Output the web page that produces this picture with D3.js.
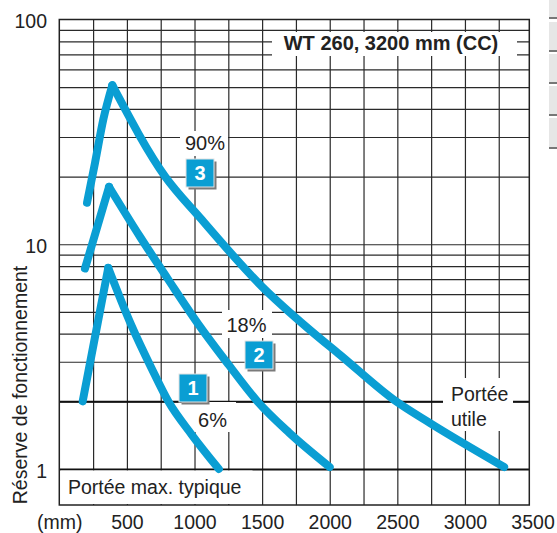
<!DOCTYPE html>
<html>
<head>
<meta charset="utf-8">
<script src="https://cdn.jsdelivr.net/npm/d3@7"></script>
<style>
  html, body { margin: 0; padding: 0; background: #fff; }
  svg { display: block; }
  text { font-family: "Liberation Sans", Arial, sans-serif; fill: #222; }
</style>
</head>
<body>
<script>
// ---------- DATA ----------
const xTickValues = [0, 500, 1000, 1500, 2000, 2500, 3000, 3500];
const xTickLabels = ["(mm)", "500", "1000", "1500", "2000", "2500", "3000", "3500"];
const xGridValues = [250, 500, 750, 1000, 1250, 1500, 1750, 2000, 2250, 2500, 2750, 3000, 3250];
const yTickValues = [1, 10, 100];
const yTickLabels = ["1", "10", "100"];
const yGridValues = [2, 3, 4, 5, 6, 7, 8, 9, 10, 20, 30, 40, 50, 60, 70, 80, 90];
const yStrongValues = [1, 2];

const seriesIds = ["1", "2", "3"];
const seriesPct = ["6%", "18%", "90%"];
const c1Dist = [173, 362, 530, 683, 806, 980, 1180];
const c1Res  = [2.0, 7.85, 4.4, 2.8, 2.0, 1.42, 1.0];
const c2Dist = [190, 368, 597, 800, 1041, 1250, 1465, 1700, 2000];
const c2Res  = [7.8, 18, 10.8, 7.05, 4.3, 2.92, 2.0, 1.45, 1.02];
const c3Dist = [205, 264, 326, 392, 783, 1042, 1497, 1855, 2076, 2495, 2742, 3290];
const c3Res  = [15.3, 23, 36, 51, 20, 13.1, 6.5, 4.15, 3.22, 1.99, 1.6, 1.02];

const titleText = "WT 260, 3200 mm (CC)";
const yTitle = "Réserve de fonctionnement";
const maxLabel = "Portée max. typique";
const usefulLabel = ["Portée", "utile"];

// ---------- LAYOUT ----------
const W = 557, H = 533;
const pL = 59.3, pR = 529.3, pT = 19.5, pB = 505;
const x = d3.scaleLinear().domain([0, 3476]).range([pL, pR]);
const y = d3.scaleLog().domain([1, 100]).range([469, pT]);
const blue = "#0a9ed3";
const gridCol = "#2a2a2a";

const svg = d3.select("body").append("svg").attr("width", W).attr("height", H);

// partial neighbour table on the right edge
const cellTops = [0, 22, 54, 86, 118];
const cellH = [19, 30, 30, 30, 31];
cellTops.forEach((t, i) => {
  svg.append("rect").attr("x", 549).attr("y", t).attr("width", 10).attr("height", cellH[i])
    .attr("fill", "#e6e6e6");
  svg.append("rect").attr("x", 549).attr("y", t + cellH[i] - 2).attr("width", 10).attr("height", 2)
    .attr("fill", "#777");
});

// ---------- GRID ----------
const gV = svg.append("g").attr("transform", `translate(0,${pB})`)
  .call(d3.axisBottom(x).tickValues(xGridValues).tickSize(-(pB - pT)).tickFormat(""));
gV.select(".domain").remove();
gV.selectAll("line").attr("stroke", gridCol).attr("stroke-width", 1.2);

const gH = svg.append("g").attr("transform", `translate(${pL},0)`)
  .call(d3.axisLeft(y).tickValues(yGridValues).tickSize(-(pR - pL)).tickFormat(""));
gH.select(".domain").remove();
gH.selectAll("line").attr("stroke", gridCol).attr("stroke-width", 1.2);

const gS = svg.append("g").attr("transform", `translate(${pL},0)`)
  .call(d3.axisLeft(y).tickValues(yStrongValues).tickSize(-(pR - pL)).tickFormat(""));
gS.select(".domain").remove();
gS.selectAll("line").attr("stroke", "#111").attr("stroke-width", 2);

// frame
svg.append("rect").attr("x", pL).attr("y", pT).attr("width", pR - pL).attr("height", pB - pT)
  .attr("fill", "none").attr("stroke", "#222").attr("stroke-width", 1.5);

// ---------- WHITE LABEL BACKGROUNDS ----------
const bgs = [
  [272, 32, 245, 24],    // title
  [180, 131, 48, 25],    // 90%
  [222, 310, 50, 28],    // 18%
  [182, 402, 54, 30],    // 6%
  [443, 378, 70, 53],    // Portée utile
  [60.5, 470.5, 192, 33.5] // Portée max. typique
];
bgs.forEach(b => svg.append("rect").attr("x", b[0]).attr("y", b[1]).attr("width", b[2]).attr("height", b[3]).attr("fill", "#fff"));

// ---------- CURVES ----------
const line = d3.line().x(d => x(d[0])).y(d => y(d[1])).curve(d3.curveMonotoneX);
[[c1Dist, c1Res], [c2Dist, c2Res], [c3Dist, c3Res]].forEach(([xs, ys]) => {
  const pts = xs.map((v, i) => [v, ys[i]]);
  const pk = d3.maxIndex(ys);
  [pts.slice(0, pk + 1), pts.slice(pk)].forEach(seg => {
    svg.append("path").attr("d", line(seg)).attr("fill", "none")
      .attr("stroke", blue).attr("stroke-width", 8)
      .attr("stroke-linecap", "round").attr("stroke-linejoin", "round");
  });
});

// ---------- TEXT ----------
const fs = 19.5;
svg.append("text").attr("x", 391).attr("y", 50).attr("text-anchor", "middle")
  .attr("font-size", 20).attr("font-weight", "bold").text(titleText);

const gX = svg.append("g").attr("transform", `translate(0,${pB})`)
  .call(d3.axisBottom(x).tickValues(xTickValues).tickSize(0).tickPadding(0)
    .tickFormat((d, i) => xTickLabels[i]));
gX.select(".domain").remove();
gX.selectAll("text").attr("font-size", fs).attr("fill", "#222")
  .attr("font-family", '"Liberation Sans", Arial, sans-serif').attr("dy", null).attr("y", 23.5);

const gY = svg.append("g").attr("transform", `translate(47,0)`)
  .call(d3.axisLeft(y).tickValues(yTickValues).tickSize(0).tickPadding(0)
    .tickFormat((d, i) => yTickLabels[i]));
gY.select(".domain").remove();
gY.selectAll("text").attr("font-size", fs).attr("fill", "#222")
  .attr("font-family", '"Liberation Sans", Arial, sans-serif').attr("dy", "0.42em");

svg.append("text").attr("transform", "translate(26.5,385) rotate(-90)")
  .attr("text-anchor", "middle").attr("font-size", fs).text(yTitle);

const pctPos = [[212.5, 426.5], [246.5, 331.5], [205, 149.5]];
seriesPct.forEach((t, i) => {
  svg.append("text").attr("x", pctPos[i][0]).attr("y", pctPos[i][1]).attr("text-anchor", "middle")
    .attr("font-size", 20).attr("fill", "#333").text(t);
});

const boxPos = [[179, 374], [245, 341], [186, 159]];
seriesIds.forEach((t, i) => {
  const [bx, by] = boxPos[i];
  svg.append("rect").attr("x", bx + 2.5).attr("y", by + 2.5).attr("width", 28).attr("height", 28).attr("fill", "#7a7a7a");
  svg.append("rect").attr("x", bx).attr("y", by).attr("width", 28).attr("height", 28)
    .attr("fill", blue).attr("stroke", "#e2e2e2").attr("stroke-width", 1);
  svg.append("text").attr("x", bx + 14).attr("y", by + 21).attr("text-anchor", "middle")
    .attr("font-size", 20).attr("font-weight", "bold").style("fill", "#fff").text(t);
});

usefulLabel.forEach((t, i) => {
  svg.append("text").attr("x", 451).attr("y", 401 + i * 25).attr("font-size", fs).attr("fill", "#333").text(t);
});

svg.append("text").attr("x", 68).attr("y", 494).attr("font-size", fs).attr("fill", "#333").text(maxLabel);
</script>
</body>
</html>
